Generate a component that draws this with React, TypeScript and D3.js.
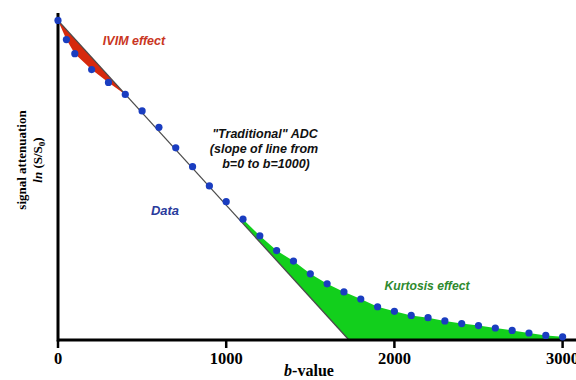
import React from "react";
import * as d3 from "d3";

// b-values (s/mm²) and measured log signal ln(S/S0)
const bValues = [
  0, 50, 100, 200, 300, 400, 500, 600, 700, 800, 900, 1000, 1100, 1200, 1300,
  1400, 1500, 1600, 1700, 1800, 1900, 2000, 2100, 2200, 2300, 2400, 2500,
  2600, 2700, 2800, 2900, 3000,
];
const lnSignal = [
  0, -0.104, -0.18, -0.266, -0.336, -0.401, -0.49, -0.579, -0.69, -0.792,
  -0.896, -0.981, -1.076, -1.166, -1.246, -1.303, -1.372, -1.426, -1.47,
  -1.508, -1.55, -1.575, -1.597, -1.609, -1.627, -1.641, -1.652, -1.665,
  -1.678, -1.692, -1.705, -1.713,
];
const xTicks = [0, 1000, 2000, 3000];

// apparent diffusion coefficient of the mono-exponential fit (mm²/s)
const ADC = 1.0e-3;
const Y_MIN = -1.73;
const Y_MAX = 0.04;
const IVIM_RANGE = [0, 400];
const KURTOSIS_RANGE = [1100, 3000];

const W = 576;
const H = 380;
const SANS = "'Liberation Sans', Arial, sans-serif";
const SERIF = "'Liberation Serif', 'Times New Roman', serif";

export default function App() {
  const x = d3.scaleLinear().domain([0, 3000]).range([58, 562.6]);
  const y = d3.scaleLinear().domain([Y_MIN, Y_MAX]).range([340, 13]);

  const dataAt = d3.scaleLinear().domain(bValues).range(lnSignal);
  const lineAt = (b: number) => Math.max(-ADC * b, Y_MIN);
  const apexB = -Y_MIN / ADC;

  const sampleRange = ([lo, hi]: number[]) => {
    const bs = bValues.filter((b) => b >= lo && b <= hi);
    if (apexB > lo && apexB < hi) bs.push(apexB);
    return bs.sort((a, b) => a - b);
  };

  const area = d3
    .area<number>()
    .x((b) => x(b))
    .y0((b) => y(lineAt(b)))
    .y1((b) => y(dataAt(b)));

  const xAxisEnd = x.invert(W);

  return (
    <svg
      width={W}
      height={H}
      style={{ position: "absolute", left: 0, top: 0, background: "#fff" }}
    >
      {/* IVIM and kurtosis deviations from the mono-exponential line */}
      <path d={area(sampleRange(IVIM_RANGE)) || ""} fill="#d6290d" />
      <path d={area(sampleRange(KURTOSIS_RANGE)) || ""} fill="#12cf1c" />

      {/* traditional ADC line */}
      <line
        x1={x(0)}
        y1={y(0)}
        x2={x(apexB)}
        y2={y(lineAt(apexB))}
        stroke="#4a4a4a"
        strokeWidth={1.3}
      />

      {/* axes */}
      <line x1={x(0)} y1={y(Y_MIN)} x2={x(xAxisEnd)} y2={y(Y_MIN)} stroke="#000" strokeWidth={3} />
      <line x1={x(0)} y1={y(Y_MAX)} x2={x(0)} y2={y(Y_MIN) + 1.5} stroke="#000" strokeWidth={3} />
      {xTicks.map((t) => (
        <g key={t}>
          <line x1={x(t)} x2={x(t)} y1={y(Y_MIN)} y2={y(Y_MIN) + 8} stroke="#000" strokeWidth={2.5} />
          <text
            x={x(t)}
            y={364}
            textAnchor="middle"
            fontFamily={SERIF}
            fontWeight="bold"
            fontSize={16.5}
          >
            {t}
          </text>
        </g>
      ))}

      {/* data points */}
      {bValues.map((b, i) => (
        <circle key={b} cx={x(b)} cy={y(lnSignal[i])} r={3.6} fill="#1a3dc0" />
      ))}

      {/* axis titles */}
      <text x={309} y={376} textAnchor="middle" fontFamily={SERIF} fontWeight="bold" fontSize={16}>
        <tspan fontStyle="italic">b</tspan>-value
      </text>
      <text
        transform="translate(26,160) rotate(-90)"
        textAnchor="middle"
        fontFamily={SERIF}
        fontWeight="bold"
        fontSize={13}
      >
        signal attenuation
      </text>
      <text
        transform="translate(42,160) rotate(-90)"
        textAnchor="middle"
        fontFamily={SERIF}
        fontWeight="bold"
        fontSize={13}
      >
        <tspan fontStyle="italic">ln</tspan> (S/S
        <tspan fontSize={9} dy={3}>0</tspan>
        <tspan dy={-3}>)</tspan>
      </text>

      {/* annotations */}
      <text x={134} y={44.5} textAnchor="middle" fontFamily={SANS} fontWeight="bold" fontStyle="italic" fontSize={12.5} fill="#c93522">
        IVIM effect
      </text>
      <g fontFamily={SANS} fontWeight="bold" fontStyle="italic" fontSize={12.5} fill="#111" textAnchor="middle">
        <text x={265} y={138}>"Traditional" ADC</text>
        <text x={264} y={153}>(slope of line from</text>
        <text x={266} y={168}>b=0 to b=1000)</text>
      </g>
      <text x={165} y={215} textAnchor="middle" fontFamily={SANS} fontWeight="bold" fontStyle="italic" fontSize={13} fill="#2a3b9c">
        Data
      </text>
      <text x={427} y={289.5} textAnchor="middle" fontFamily={SANS} fontWeight="bold" fontStyle="italic" fontSize={12.2} fill="#2e8a2e">
        Kurtosis effect
      </text>
    </svg>
  );
}
